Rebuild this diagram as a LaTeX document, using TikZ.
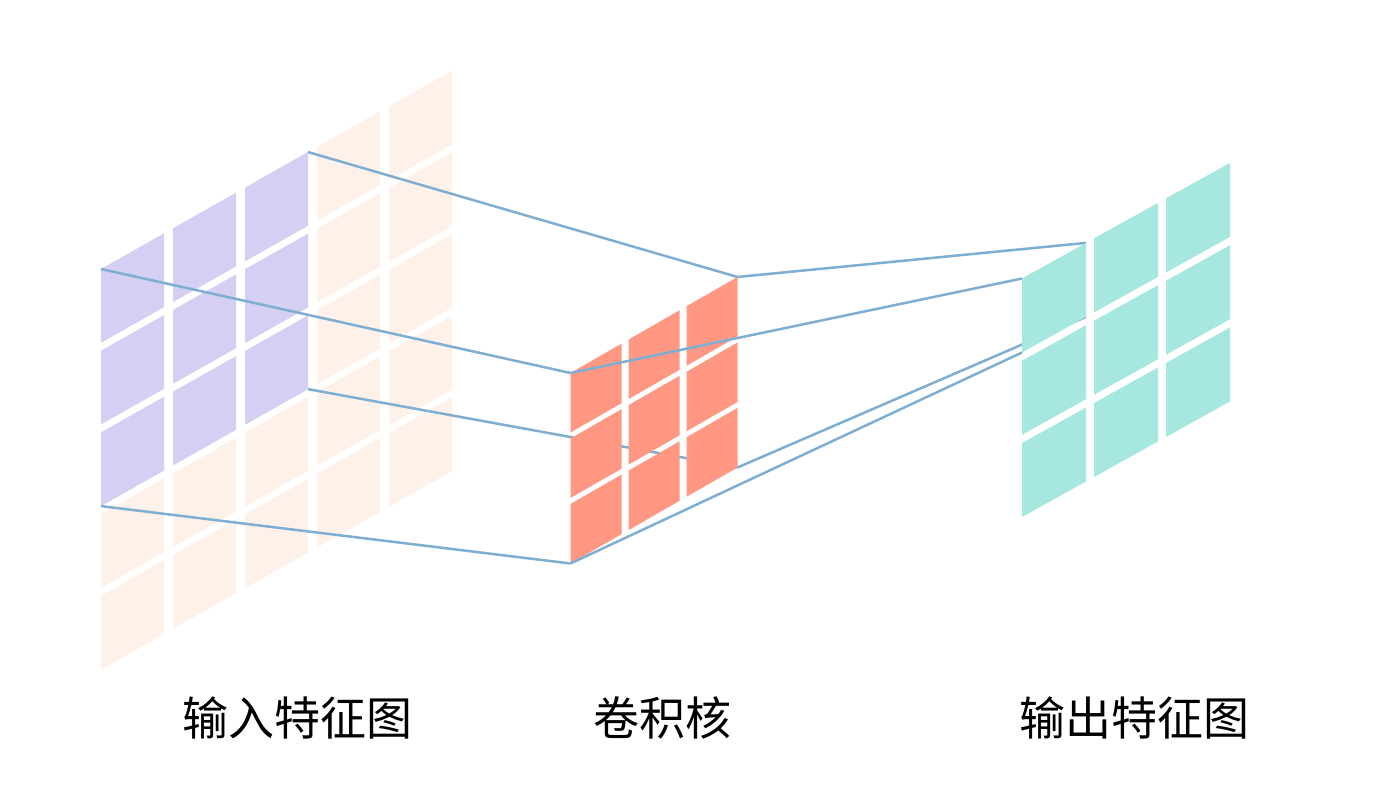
\documentclass[tikz,border=0pt]{standalone}
\usepackage{fontspec}
\usepackage{xcolor}
\usepackage{tikz}
\usetikzlibrary{calc, positioning}

\newfontfamily\cjk{Noto Sans CJK SC}

\definecolor{inpurple}{HTML}{D5CFF3}
\definecolor{inpeach}{HTML}{FEF1E9}
\definecolor{kersalmon}{HTML}{FF9783}
\definecolor{outteal}{HTML}{A6E7DF}
\definecolor{linkblue}{HTML}{7FAED3}

\begin{document}
\begin{tikzpicture}[x=1pt, y=-1pt, font=\cjk\fontsize{46}{50}\selectfont]
\tikzstyle{link} = [draw=linkblue, line width=2.5pt]
\tikzstyle{caption} = [draw=none, inner sep=0pt]

\useasboundingbox (0,0) rectangle (1377,802);
\fill[white] (0,0) rectangle (1377,802);

% input feature map, 5x5
\begin{scope}[shift={(101,269)}, x={(1pt,0.565pt)}, y={(0pt,-1pt)}]
\foreach \c in {0,...,4}
  \foreach \r in {0,...,4}
    \fill[inpeach] (72*\c, 81.7*\r) -- ++(63,0) -- ++(0,73.7) -- ++(-63,0) -- cycle;
\foreach \c in {0,...,2}
  \foreach \r in {0,...,2}
    \fill[inpurple] (72*\c, 81.7*\r) -- ++(63,0) -- ++(0,73.7) -- ++(-63,0) -- cycle;
\coordinate (in-tl) at (0,0);
\coordinate (in-tr) at (207,0);
\coordinate (in-br) at (207,237.1);
\coordinate (in-bl) at (0,237.1);
\end{scope}

% kernel corners
\begin{scope}[shift={(570.5,373)}, x={(1pt,0.575pt)}, y={(0pt,-1pt)}]
\coordinate (k-tl) at (0,0);
\coordinate (k-tr) at (167,0);
\coordinate (k-br) at (167,190.5);
\coordinate (k-bl) at (0,190.5);
\end{scope}

\path[link]
(in-tl)	edge	(k-tl)
(in-tr)	edge	(k-tr)
(in-br)	edge	(k-br)
(in-bl)	edge	(k-bl);

% kernel, 3x3
\begin{scope}[shift={(570.5,373)}, x={(1pt,0.575pt)}, y={(0pt,-1pt)}]
\foreach \c in {0,...,2}
  \foreach \r in {0,...,2}
    \fill[kersalmon] (58*\c, 65.5*\r) -- ++(51,0) -- ++(0,59.5) -- ++(-51,0) -- cycle;
\end{scope}

% output corners
\begin{scope}[shift={(1022,278.5)}, x={(1pt,0.556pt)}, y={(0pt,-1pt)}]
\coordinate (o-tl) at (0,0);
\coordinate (o-tr) at (64,0);
\coordinate (o-br) at (64,74);
\coordinate (o-bl) at (0,74);
\end{scope}

\path[link]
(k-tl)	edge	(o-tl)
(k-tr)	edge	(o-tr)
(k-br)	edge	(o-br)
(k-bl)	edge	(o-bl);

% output feature map, 3x3
\begin{scope}[shift={(1022,278.5)}, x={(1pt,0.556pt)}, y={(0pt,-1pt)}]
\foreach \c in {0,...,2}
  \foreach \r in {0,...,2}
    \fill[outteal] (72*\c, 82.3*\r) -- ++(64,0) -- ++(0,74) -- ++(-64,0) -- cycle;
\end{scope}

\node[caption]	at (297,718)	(cap-in)	{输入特征图};
\node[caption]	at (662,718)	(cap-ker)	{卷积核};
\node[caption]	at (1134,718)	(cap-out)	{输出特征图};
\end{tikzpicture}
\end{document}
